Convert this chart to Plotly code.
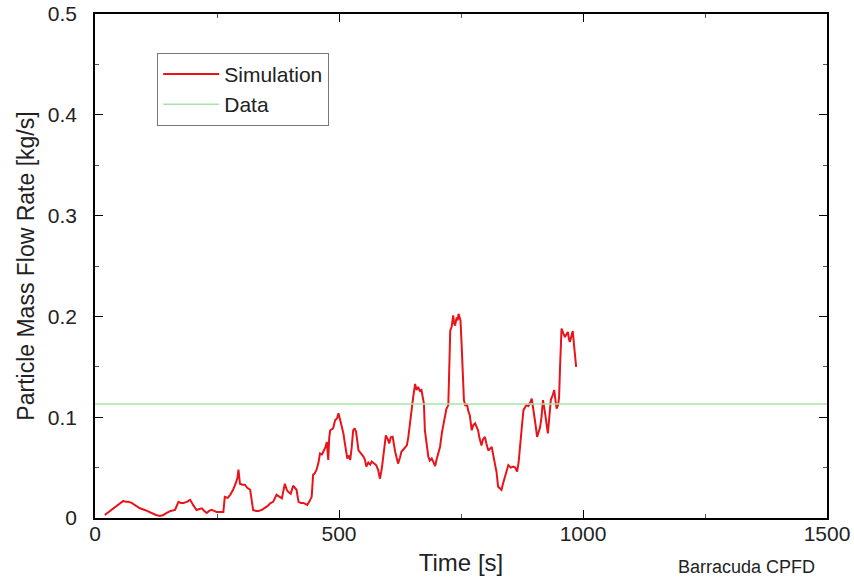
import plotly.graph_objects as go

sim_time = [20, 28, 37, 45, 51, 58, 63, 68, 75, 82, 88, 92, 102, 110, 116, 125, 133, 140, 147, 155,
            164, 171, 176, 181, 188, 195, 201, 208, 214, 219, 224, 229, 234, 239, 244, 249, 256, 263,
            266, 272, 277, 283, 288, 292, 294, 297, 302, 307, 312, 318, 321, 324, 330, 335, 342, 348,
            354, 359, 365, 372, 378, 383, 389, 393, 396, 401, 406, 410, 413, 417, 422, 427, 431, 435,
            440, 444, 447, 450, 454, 458, 461, 465, 468, 472, 475, 478, 480, 482, 488, 492, 496, 499,
            502, 505, 509, 512, 515, 517, 520, 523, 526, 529, 532, 535, 540, 545, 550, 553, 556, 560,
            564, 567, 572, 576, 580, 584, 588, 591, 594, 596, 600, 603, 606, 610, 615, 618, 621, 625,
            628, 632, 636, 639, 642, 645, 649, 652, 656, 659, 662, 666, 669, 672, 674, 676, 680, 683,
            686, 690, 694, 697, 700, 703, 707, 711, 714, 717, 720, 724, 726, 728, 731, 734, 736, 738,
            741, 743, 745, 747, 749, 751, 753, 756, 759, 762, 765, 768, 772, 775, 779, 782, 785, 788,
            792, 795, 799, 802, 806, 810, 813, 817, 820, 823, 826, 829, 833, 836, 840, 844, 847, 852,
            857, 861, 865, 868, 871, 875, 878, 881, 884, 888, 891, 895, 899, 902, 906, 909, 912, 915,
            918, 922, 925, 928, 931, 934, 938, 941, 944, 946, 949, 951, 953, 956, 960, 963, 966, 969,
            971, 973, 976, 979, 982, 984, 986]
sim_flow = [0.003, 0.006, 0.0096, 0.012, 0.0145, 0.017, 0.016, 0.016, 0.015, 0.013, 0.011, 0.0096,
            0.008, 0.006, 0.005, 0.003, 0.002, 0.003, 0.005, 0.007, 0.008, 0.016, 0.015, 0.015, 0.016,
            0.018, 0.013, 0.008, 0.009, 0.0096, 0.007, 0.005, 0.007, 0.008, 0.007, 0.006, 0.006, 0.006,
            0.021, 0.020, 0.023, 0.028, 0.034, 0.040, 0.048, 0.034, 0.033, 0.033, 0.030, 0.028, 0.018,
            0.008, 0.007, 0.007, 0.008, 0.0096, 0.012, 0.0145, 0.016, 0.023, 0.021, 0.0195, 0.034,
            0.028, 0.026, 0.024, 0.032, 0.030, 0.028, 0.016, 0.015, 0.015, 0.014, 0.013, 0.017, 0.021,
            0.043, 0.044, 0.048, 0.055, 0.064, 0.063, 0.066, 0.070, 0.0755, 0.0575, 0.080, 0.087, 0.089,
            0.097, 0.099, 0.104, 0.098, 0.092, 0.084, 0.074, 0.065, 0.059, 0.062, 0.0575, 0.070, 0.087,
            0.089, 0.0855, 0.067, 0.064, 0.061, 0.058, 0.051, 0.055, 0.053, 0.056, 0.054, 0.0525, 0.048,
            0.039, 0.050, 0.064, 0.075, 0.082, 0.078, 0.074, 0.080, 0.0805, 0.066, 0.060, 0.054, 0.060,
            0.066, 0.068, 0.070, 0.072, 0.080, 0.094, 0.110, 0.120, 0.133, 0.127, 0.130, 0.126, 0.127,
            0.120, 0.1135, 0.087, 0.070, 0.061, 0.057, 0.059, 0.055, 0.0515, 0.058, 0.0625, 0.0705,
            0.085, 0.094, 0.100, 0.108, 0.112, 0.140, 0.186, 0.190, 0.201, 0.193, 0.191, 0.199, 0.196,
            0.2025, 0.200, 0.196, 0.175, 0.150, 0.117, 0.111, 0.1135, 0.106, 0.102, 0.087, 0.092, 0.094,
            0.090, 0.087, 0.079, 0.072, 0.078, 0.0805, 0.074, 0.067, 0.069, 0.0705, 0.060, 0.054, 0.045,
            0.031, 0.030, 0.028, 0.034, 0.041, 0.048, 0.0525, 0.050, 0.051, 0.050, 0.046, 0.055, 0.074,
            0.092, 0.107, 0.110, 0.112, 0.111, 0.1135, 0.1185, 0.107, 0.095, 0.0805, 0.086, 0.090, 0.100,
            0.117, 0.105, 0.094, 0.084, 0.100, 0.117, 0.122, 0.127, 0.115, 0.1085, 0.112, 0.120, 0.150,
            0.188, 0.183, 0.1795, 0.182, 0.1845, 0.178, 0.1745, 0.180, 0.1855, 0.1695, 0.160, 0.150]

data_time = [0, 1500]
data_flow = [0.113, 0.113]

x_ticks = [0, 500, 1000, 1500]
y_ticks = [0, 0.1, 0.2, 0.3, 0.4, 0.5]
y_labels = ["0", "0.1", "0.2", "0.3", "0.4", "0.5"]

FONT = "Liberation Sans, Arial, sans-serif"

fig = go.Figure()
fig.add_trace(go.Scatter(x=sim_time, y=sim_flow, mode="lines", name="Simulation",
                         line=dict(color="#e8141a", width=2)))
fig.add_trace(go.Scatter(x=data_time, y=data_flow, mode="lines", name="Data",
                         line=dict(color="#a6e3a6", width=1.5)))

axis_common = dict(showline=True, linecolor="black", linewidth=1.5, mirror="allticks",
                   ticks="inside", ticklen=8, tickwidth=1.3, tickcolor="black",
                   showgrid=False, zeroline=False, automargin=False,
                   tickfont=dict(size=21, color="#222"))

fig.update_xaxes(range=[0, 1500], tickvals=x_ticks, ticktext=[str(v) for v in x_ticks],
                 title=dict(text="Time [s]", font=dict(size=24, color="#222"), standoff=10),
                 minor=dict(ticks="inside", ticklen=4, dtick=250, tickcolor="#555"),
                 ticklabelstandoff=-4,
                 **axis_common)
fig.update_yaxes(range=[0, 0.5], tickvals=y_ticks, ticktext=y_labels,
                 title=dict(text="Particle Mass Flow Rate [kg/s]", font=dict(size=23, color="#222"), standoff=7),
                 minor=dict(ticks="inside", ticklen=4, dtick=0.05, tickcolor="#555"),
                 ticklabelstandoff=12,
                 **axis_common)

fig.update_layout(
    width=854, height=579,
    margin=dict(l=95, r=27, t=14, b=61, autoexpand=False),
    paper_bgcolor="white", plot_bgcolor="white",
    font=dict(family=FONT, color="#222"),
    showlegend=True,
    legend=dict(x=0.085, y=0.923, xanchor="left", yanchor="top",
                bgcolor="white", bordercolor="#777", borderwidth=1,
                font=dict(size=21, color="#222"), tracegroupgap=0,
                itemwidth=56),
    annotations=[dict(text="Barracuda CPFD", xref="paper", yref="paper",
                      x=0.986, y=0, xanchor="right", yanchor="middle", yshift=-49,
                      showarrow=False, font=dict(size=18, color="#222"))],
)

# remove the default page margin so the figure sits at the window's top-left corner
fig.write_html("out.html", config={"displayModeBar": False},
               post_script="document.body.style.margin='0';")
